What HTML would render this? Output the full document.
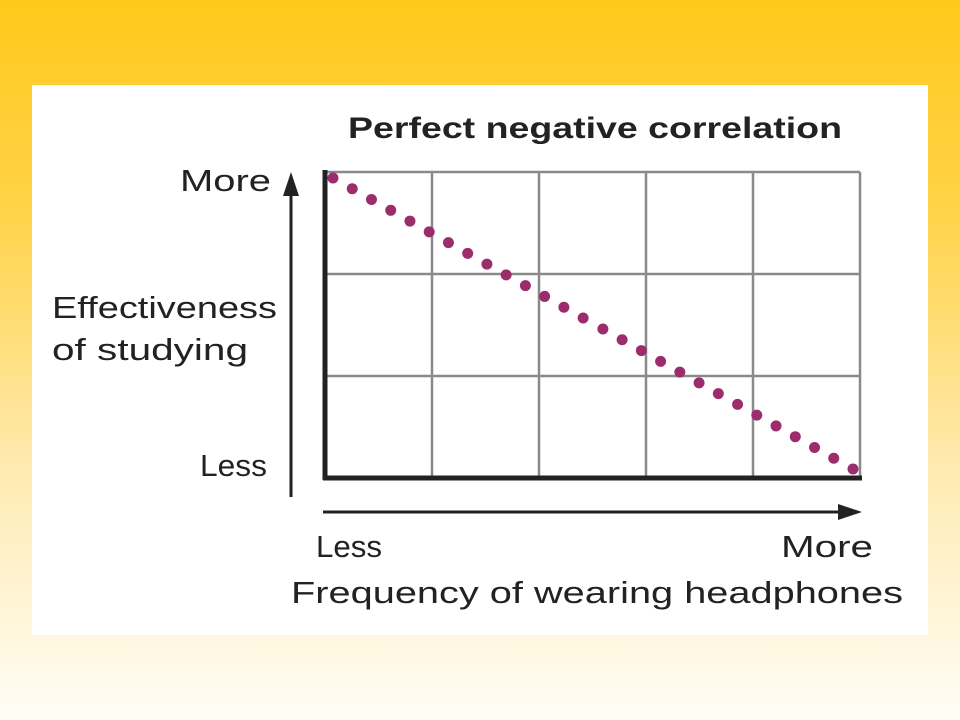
<!DOCTYPE html>
<html><head><meta charset="utf-8"><style>
html,body{margin:0;padding:0}
body{width:960px;height:720px;background:linear-gradient(to bottom,#ffc91a 0%,#ffd34a 30%,#ffeab0 65%,#fffdf6 100%);position:relative;overflow:hidden;font-family:"Liberation Sans",sans-serif}
#panel{position:absolute;left:32px;top:85px;width:896px;height:550px;background:#fff}
svg{position:absolute;left:0;top:0}
text{font-family:"Liberation Sans",sans-serif;fill:#222}
</style></head><body>
<div id="panel"></div>
<svg id="chart" width="960" height="720">
<text x="348" y="138" font-size="30" font-weight="bold" textLength="494" lengthAdjust="spacingAndGlyphs">Perfect negative correlation</text>
<text x="180" y="191" font-size="31" textLength="91" lengthAdjust="spacingAndGlyphs">More</text>
<text x="52" y="318" font-size="31" textLength="225" lengthAdjust="spacingAndGlyphs">Effectiveness</text>
<text x="52" y="360" font-size="31" textLength="196" lengthAdjust="spacingAndGlyphs">of studying</text>
<text x="200" y="476" font-size="31" textLength="67" lengthAdjust="spacingAndGlyphs">Less</text>
<text x="316" y="557" font-size="31" textLength="66" lengthAdjust="spacingAndGlyphs">Less</text>
<text x="781" y="557" font-size="31" textLength="92" lengthAdjust="spacingAndGlyphs">More</text>
<text x="291" y="603" font-size="31" textLength="612" lengthAdjust="spacingAndGlyphs">Frequency of wearing headphones</text>
<g id="grid"></g>
<g id="dots"></g>
<line x1="325" y1="170" x2="325" y2="480" stroke="#222" stroke-width="5"/>
<line x1="323" y1="478" x2="862" y2="478" stroke="#222" stroke-width="5"/>
<line x1="291" y1="497" x2="291" y2="185" stroke="#222" stroke-width="3"/>
<polygon points="291,172 283,196 299,196" fill="#222"/>
<line x1="323" y1="512" x2="846" y2="512" stroke="#222" stroke-width="3"/>
<polygon points="862,512 838,504 838,520" fill="#222"/>
</svg>
<script>
const xCells = [0,1,2,3,4,5];
const yCells = [0,1,2,3];
const xValues = [0,3.7,7.4,11.1,14.8,18.5,22.2,25.9,29.6,33.3,37.0,40.7,44.4,48.1,51.9,55.6,59.3,63.0,66.7,70.4,74.1,77.8,81.5,85.2,88.9,92.6,96.3,100];
const yValues = [100,96.3,92.6,88.9,85.2,81.5,77.8,74.1,70.4,66.7,63.0,59.3,55.6,51.9,48.1,44.4,40.7,37.0,33.3,29.6,25.9,22.2,18.5,14.8,11.1,7.4,3.7,0];
const NS="http://www.w3.org/2000/svg";
function gx(c){return 325+c*(860-325)/5;}
function gy(r){return 478-r*(478-172)/3;}
function px(v){return 333+v/100*(853-333);}
function py(v){return 469-v/100*(469-178);}
const grid=document.getElementById('grid');
xCells.forEach(c=>{const l=document.createElementNS(NS,'line');
l.setAttribute('x1',gx(c));l.setAttribute('x2',gx(c));l.setAttribute('y1',172);l.setAttribute('y2',478);
l.setAttribute('stroke','#8a8a8a');l.setAttribute('stroke-width','2.5');


grid.appendChild(l);});
yCells.forEach(r=>{const l=document.createElementNS(NS,'line');
l.setAttribute('x1',325);l.setAttribute('x2',860);l.setAttribute('y1',gy(r));l.setAttribute('y2',gy(r));
l.setAttribute('stroke','#8a8a8a');l.setAttribute('stroke-width','2.5');


grid.appendChild(l);});
const dots=document.getElementById('dots');
xValues.forEach((v,i)=>{const c=document.createElementNS(NS,'circle');
c.setAttribute('cx',px(v));c.setAttribute('cy',py(yValues[i]));c.setAttribute('r',5.5);c.setAttribute('fill','#9c2d6c');


dots.appendChild(c);});
</script>
</body></html>
